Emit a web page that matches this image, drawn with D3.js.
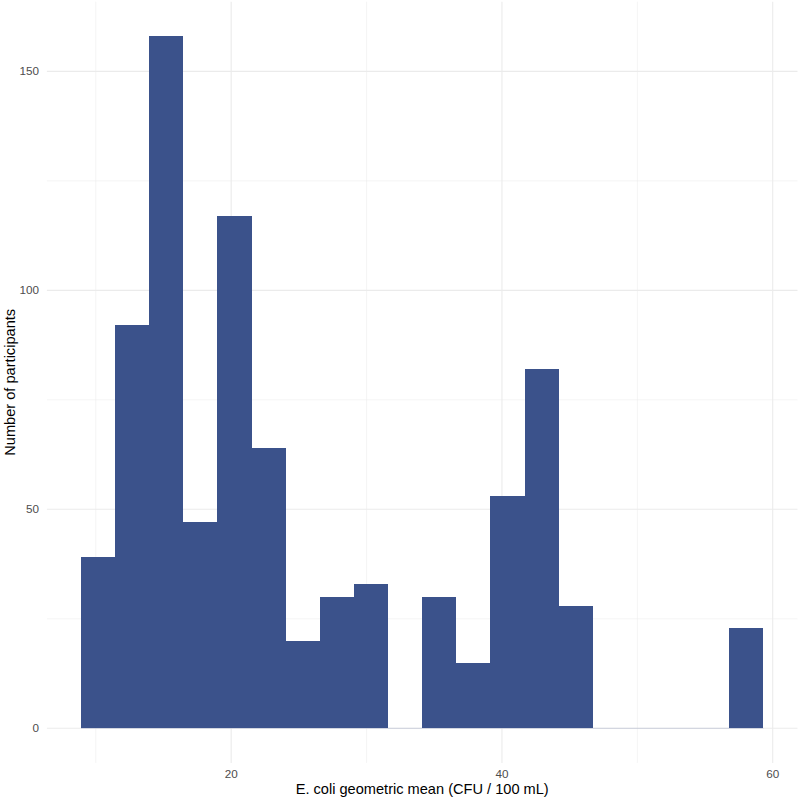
<!DOCTYPE html>
<html>
<head>
<meta charset="utf-8">
<script src="https://cdn.jsdelivr.net/npm/d3@7"></script>
<style>
  body { margin: 0; background: #fff; }
  text { font-family: "Liberation Sans", Arial, sans-serif; }
</style>
</head>
<body>
<div id="chart"></div>
<script>
// histogram data
var binEdges = [8.91, 11.43, 13.95, 16.47, 18.99, 21.51, 24.03, 26.55, 29.07, 31.59,
  34.11, 36.63, 39.15, 41.67, 44.19, 46.71, 49.23, 51.75, 54.27, 56.79, 59.31];
var counts = [39, 92, 158, 47, 117, 64, 20, 30, 33, 0,
  30, 15, 53, 82, 28, 0, 0, 0, 0, 23];
var xMajor = [20, 40, 60];
var xMinor = [10, 30, 50];
var yMajor = [0, 50, 100, 150];
var yMinor = [25, 75, 125];

var svgWidth = 800;
var svgHeight = 800;

var svg = d3.select("#chart")
  .append("svg")
  .attr("width", svgWidth)
  .attr("height", svgHeight);

// ggplot style 5% expansion
var xlo = binEdges[0], xhi = binEdges[binEdges.length - 1];
var xr = xhi - xlo;
var ymax = d3.max(counts);

var x = d3.scaleLinear()
  .domain([xlo - 0.05 * xr, xhi + 0.05 * xr])
  .range([46.9, 797.5]);

var y = d3.scaleLinear()
  .domain([-0.05 * ymax, ymax * 1.05])
  .range([762.9, 1.7]);

var panel = svg.append("g");

// minor grid
panel.selectAll("line.xminor")
  .data(xMinor)
  .enter().append("line")
  .attr("x1", d => x(d)).attr("x2", d => x(d))
  .attr("y1", y.range()[0]).attr("y2", y.range()[1])
  .attr("stroke", "#ebebeb").attr("stroke-width", 0.55);

panel.selectAll("line.yminor")
  .data(yMinor)
  .enter().append("line")
  .attr("y1", d => y(d)).attr("y2", d => y(d))
  .attr("x1", x.range()[0]).attr("x2", x.range()[1])
  .attr("stroke", "#ebebeb").attr("stroke-width", 0.55);

// major grid
panel.selectAll("line.xmajor")
  .data(xMajor)
  .enter().append("line")
  .attr("x1", d => x(d)).attr("x2", d => x(d))
  .attr("y1", y.range()[0]).attr("y2", y.range()[1])
  .attr("stroke", "#ebebeb").attr("stroke-width", 1.1);

panel.selectAll("line.ymajor")
  .data(yMajor)
  .enter().append("line")
  .attr("y1", d => y(d)).attr("y2", d => y(d))
  .attr("x1", x.range()[0]).attr("x2", x.range()[1])
  .attr("stroke", "#ebebeb").attr("stroke-width", 1.1);

// faint baseline where ggplot draws zero-height bars
panel.append("line")
  .attr("x1", x(xlo)).attr("x2", x(xhi))
  .attr("y1", y(0)).attr("y2", y(0))
  .attr("stroke", "#3b528b").attr("stroke-opacity", 0.2).attr("stroke-width", 1);

// bars, crisp edges so neighbours leave no seam
var bins = counts.map((c, i) => ({ x0: binEdges[i], x1: binEdges[i + 1], n: c }))
  .filter(d => d.n > 0);

panel.selectAll("rect.bar")
  .data(bins)
  .enter().append("rect")
  .attr("class", "bar")
  .attr("x", d => x(d.x0))
  .attr("width", d => x(d.x1) - x(d.x0))
  .attr("y", d => y(d.n))
  .attr("height", d => y(0) - y(d.n))
  .attr("fill", "#3b528b")
  .attr("shape-rendering", "crispEdges");

// tick labels
svg.selectAll("text.xtick")
  .data(xMajor)
  .enter().append("text")
  .attr("x", d => x(d))
  .attr("y", 778)
  .attr("text-anchor", "middle")
  .attr("font-size", "11.7px")
  .attr("fill", "#4d4d4d")
  .text(d => d);

svg.selectAll("text.ytick")
  .data(yMajor)
  .enter().append("text")
  .attr("x", 39)
  .attr("y", d => y(d))
  .attr("dy", "0.35em")
  .attr("text-anchor", "end")
  .attr("font-size", "11.7px")
  .attr("fill", "#4d4d4d")
  .text(d => d);

// axis titles
svg.append("text")
  .attr("x", (x.range()[0] + x.range()[1]) / 2)
  .attr("y", 794)
  .attr("text-anchor", "middle")
  .attr("font-size", "14.6px")
  .attr("fill", "#000")
  .text("E. coli geometric mean (CFU / 100 mL)");

svg.append("text")
  .attr("transform", `translate(15, ${(y.range()[0] + y.range()[1]) / 2}) rotate(-90)`)
  .attr("text-anchor", "middle")
  .attr("font-size", "14.6px")
  .attr("fill", "#000")
  .text("Number of participants");
</script>
</body>
</html>
